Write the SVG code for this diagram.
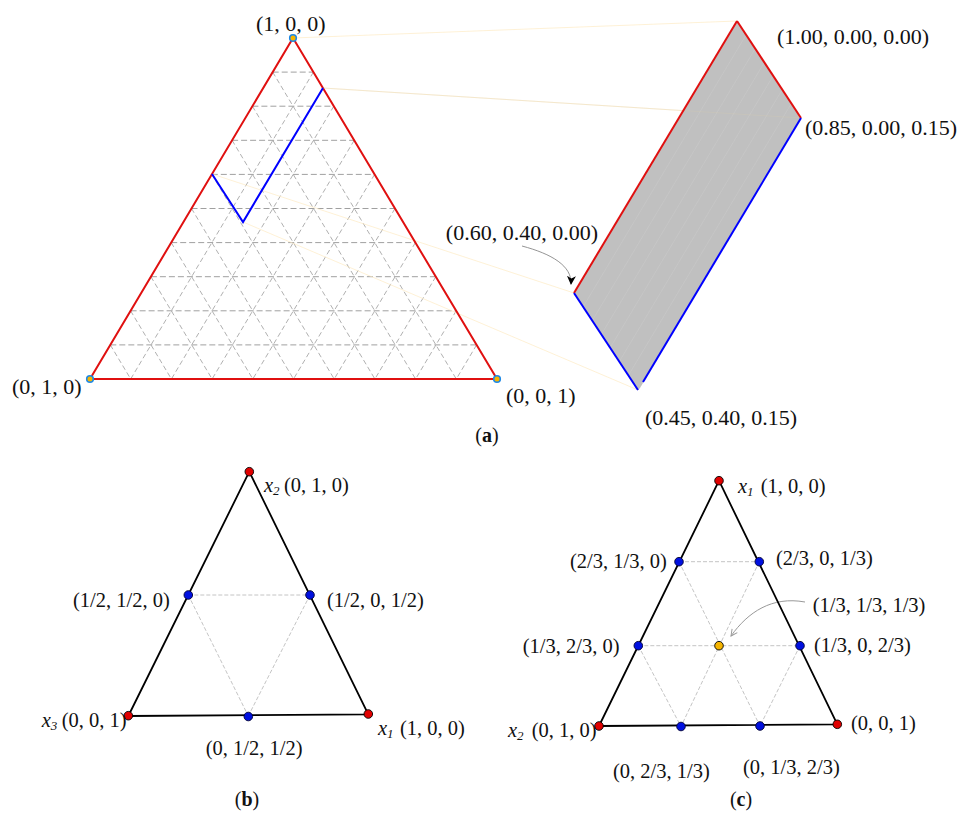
<svg xmlns="http://www.w3.org/2000/svg" width="963" height="814" viewBox="0 0 963 814">
<defs>
<style>
text{font-family:"Liberation Serif","Times New Roman",serif;fill:#111;}
.la{font-size:22px;}
.lb{font-size:20.5px;}
.cap{font-size:20px;}
.sub{font-size:13px;}
.it{font-style:italic;}
.grid{stroke:#9c9c9c;stroke-width:0.8;stroke-dasharray:5 3;fill:none;}
.gridh{stroke:#a0a0a0;stroke-width:1;stroke-dasharray:6 3;fill:none;}
.red{stroke:#e01010;stroke-width:2;fill:none;}
.blue{stroke:#0000ff;stroke-width:2;fill:none;}
.yel{stroke:#fdebc4;stroke-width:0.7;fill:none;}
.blk{stroke:#000;stroke-width:1.8;fill:none;stroke-linejoin:round;}
.dash{stroke:#bdbdbd;stroke-width:0.9;stroke-dasharray:4 2;fill:none;}
.vdot{fill:#f5b400;stroke:#1e88e5;stroke-width:1.6;}
.rdot{fill:#e00000;stroke:#000;stroke-width:0.9;}
.bdot{fill:#0010e0;stroke:#000033;stroke-width:0.9;}
.odot{fill:#f5b400;stroke:#000;stroke-width:0.9;}
.stripe{stroke:#c9c9c9;stroke-width:0.6;}
</style>
<marker id="stealth" viewBox="0 0 10 10" refX="9" refY="5" markerWidth="9" markerHeight="9" orient="auto" markerUnits="userSpaceOnUse">
<path d="M0,0 L10,5 L0,10 L3,5 z" fill="#000"/>
</marker>
<marker id="garrow" viewBox="0 0 10 10" refX="9" refY="5" markerWidth="8" markerHeight="8" orient="auto" markerUnits="userSpaceOnUse">
<path d="M1,1 L9,5 L1,9" fill="none" stroke="#999" stroke-width="1.2"/>
</marker>
</defs>
<rect width="963" height="814" fill="#fff"/>

<!-- Panel (a) -->
<g id="panel-a-grid">
<g class="gridh">
<line x1="110.3" y1="344.9" x2="476.6" y2="344.9"/>
<line x1="130.6" y1="310.8" x2="456.2" y2="310.8"/>
<line x1="150.9" y1="276.7" x2="435.8" y2="276.7"/>
<line x1="171.2" y1="242.6" x2="415.4" y2="242.6"/>
<line x1="191.5" y1="208.5" x2="395" y2="208.5"/>
<line x1="211.8" y1="174.4" x2="374.6" y2="174.4"/>
<line x1="232.1" y1="140.3" x2="354.2" y2="140.3"/>
<line x1="252.4" y1="106.2" x2="333.8" y2="106.2"/>
<line x1="272.7" y1="72.1" x2="313.4" y2="72.1"/>
</g>
<g class="grid">
<line x1="313.4" y1="72.1" x2="130.7" y2="379"/>
<line x1="333.8" y1="106.2" x2="171.4" y2="379"/>
<line x1="354.2" y1="140.3" x2="212.1" y2="379"/>
<line x1="374.6" y1="174.4" x2="252.8" y2="379"/>
<line x1="395" y1="208.5" x2="293.5" y2="379"/>
<line x1="415.4" y1="242.6" x2="334.2" y2="379"/>
<line x1="435.8" y1="276.7" x2="374.9" y2="379"/>
<line x1="456.2" y1="310.8" x2="415.6" y2="379"/>
<line x1="476.6" y1="344.9" x2="456.3" y2="379"/>
<line x1="272.7" y1="72.1" x2="456.3" y2="379"/>
<line x1="252.4" y1="106.2" x2="415.6" y2="379"/>
<line x1="232.1" y1="140.3" x2="374.9" y2="379"/>
<line x1="211.8" y1="174.4" x2="334.2" y2="379"/>
<line x1="191.5" y1="208.5" x2="293.5" y2="379"/>
<line x1="171.2" y1="242.6" x2="252.8" y2="379"/>
<line x1="150.9" y1="276.7" x2="212.1" y2="379"/>
<line x1="130.6" y1="310.8" x2="171.4" y2="379"/>
<line x1="110.3" y1="344.9" x2="130.7" y2="379"/>
</g>
</g>

<g id="connectors">
<g class="yel">
<line x1="293" y1="38" x2="737" y2="21"/>
<line x1="323" y1="88" x2="801" y2="118"/>
<line x1="212" y1="174" x2="574" y2="293"/>
<line x1="243" y1="222" x2="638" y2="390"/>
</g>
<path d="M522,246 C552,254 572,266 571,284" fill="none" stroke="#888" stroke-width="0.9" marker-end="url(#stealth)"/>
<path d="M805,602 C772,596 748,612 731,636" fill="none" stroke="#999" stroke-width="1" marker-end="url(#garrow)"/>
</g>

<g id="triangle-a">
<path class="red" d="M293,38 L497,379 L90,379 Z"/>
<polyline class="blue" points="212,174 243,222 323,88"/>
</g>

<g id="parallelogram">
<path d="M737,21 L801,118 L640,388 L638,390 L574,293 Z" fill="#c0c0c0"/>
<g class="stripe">
<line x1="746" y1="35" x2="583" y2="307"/>
<line x1="755" y1="49" x2="592" y2="321"/>
<line x1="764" y1="63" x2="601" y2="335"/>
<line x1="773" y1="76" x2="610" y2="348"/>
<line x1="782" y1="90" x2="619" y2="362"/>
<line x1="791" y1="104" x2="628" y2="376"/>
</g>
<line x1="323" y1="88" x2="801" y2="118" stroke="#d8cdb0" stroke-width="0.5" opacity="0.5"/>
<line class="red" x1="574" y1="293" x2="737" y2="21"/>
<line class="red" x1="737" y1="21" x2="801" y2="118"/>
<line class="blue" x1="801" y1="118" x2="643" y2="382"/>
<line class="blue" x1="574" y1="293" x2="638" y2="390"/>
</g>

<g id="a-v1"><circle class="vdot" cx="293" cy="38" r="3.3"/><text class="la" x="256" y="31">(1, 0, 0)</text></g>
<g id="a-v2"><circle class="vdot" cx="90" cy="379" r="3.3"/><text class="la" x="12" y="394">(0, 1, 0)</text></g>
<g id="a-v3"><circle class="vdot" cx="497" cy="379" r="3.3"/><text class="la" x="506" y="403">(0, 0, 1)</text></g>
<g id="p-top"><text class="la" x="777" y="43.5">(1.00, 0.00, 0.00)</text></g>
<g id="p-right"><text class="la" x="805" y="135">(0.85, 0.00, 0.15)</text></g>
<g id="p-left"><text class="la" x="598" y="239.5" text-anchor="end">(0.60, 0.40, 0.00)</text></g>
<g id="p-bottom"><text class="la" x="645" y="425">(0.45, 0.40, 0.15)</text></g>
<text class="cap" x="487" y="442" text-anchor="middle">(<tspan font-weight="bold">a</tspan>)</text>

<!-- Panel (b) -->
<g id="b-grid" class="dash">
<line x1="188.3" y1="595" x2="310" y2="595"/>
<line x1="188.3" y1="595" x2="248.3" y2="716"/>
<line x1="310" y1="595" x2="248.3" y2="716"/>
</g>
<g id="triangle-b"><path class="blk" d="M249.3,471.7 L368.3,714.3 L128.3,716 Z"/></g>
<g id="b-x2"><circle class="rdot" cx="249.3" cy="471.7" r="4.3"/><text class="lb it" x="264" y="492">x<tspan class="sub" dy="3">2</tspan></text><text class="lb" x="284" y="492">(0, 1, 0)</text></g>
<g id="b-x3"><circle class="rdot" cx="128.3" cy="715.7" r="4.3"/><text class="lb it" x="41.7" y="727">x<tspan class="sub" dy="3">3</tspan></text><text class="lb" x="61.7" y="727">(0, 0, 1)</text></g>
<g id="b-x1"><circle class="rdot" cx="368.3" cy="714" r="4.3"/><text class="lb it" x="378" y="735">x<tspan class="sub" dy="3">1</tspan></text><text class="lb" x="400" y="735">(1, 0, 0)</text></g>
<g id="b-m12"><circle class="bdot" cx="188.3" cy="595" r="4.3"/><text class="lb" x="73" y="607">(1/2, 1/2, 0)</text></g>
<g id="b-m13"><circle class="bdot" cx="310" cy="595" r="4.3"/><text class="lb" x="327" y="607">(1/2, 0, 1/2)</text></g>
<g id="b-m23"><circle class="bdot" cx="248.3" cy="716.5" r="4.3"/><text class="lb" x="205.7" y="755">(0, 1/2, 1/2)</text></g>
<text class="cap" x="247" y="806" text-anchor="middle">(<tspan font-weight="bold">b</tspan>)</text>

<!-- Panel (c) -->
<g id="c-grid" class="dash">
<line x1="679" y1="561.7" x2="759.3" y2="561.7"/>
<line x1="638.3" y1="645.7" x2="800" y2="645.7"/>
<line x1="679" y1="561.7" x2="760" y2="726"/>
<line x1="759.3" y1="561.7" x2="681" y2="726.5"/>
<line x1="638.3" y1="645.7" x2="681" y2="726.5"/>
<line x1="800" y1="645.7" x2="760" y2="726"/>
</g>
<g id="triangle-c"><path class="blk" d="M719,480.7 L837.3,724.3 L599,726 Z"/></g>
<g id="c-x1"><circle class="rdot" cx="719" cy="480.7" r="4.3"/><text class="lb it" x="738" y="493">x<tspan class="sub" dy="3">1</tspan></text><text class="lb" x="760.7" y="493">(1, 0, 0)</text></g>
<g id="c-x2"><circle class="rdot" cx="599" cy="726" r="4.3"/><text class="lb it" x="508" y="737">x<tspan class="sub" dy="3">2</tspan></text><text class="lb" x="531.7" y="737">(0, 1, 0)</text></g>
<g id="c-x3"><circle class="rdot" cx="837.3" cy="724.3" r="4.3"/><text class="lb" x="851" y="730">(0, 0, 1)</text></g>
<g id="c-p1"><circle class="bdot" cx="679" cy="561.7" r="4.3"/><text class="lb" x="570" y="568">(2/3, 1/3, 0)</text></g>
<g id="c-p2"><circle class="bdot" cx="759.3" cy="561.7" r="4.3"/><text class="lb" x="776" y="565">(2/3, 0, 1/3)</text></g>
<g id="c-p3"><circle class="bdot" cx="638.3" cy="645.7" r="4.3"/><text class="lb" x="522.7" y="653">(1/3, 2/3, 0)</text></g>
<g id="c-center"><circle class="odot" cx="719" cy="645.7" r="4.3"/><text class="lb" x="812.7" y="612">(1/3, 1/3, 1/3)</text></g>
<g id="c-p4"><circle class="bdot" cx="800" cy="645.7" r="4.3"/><text class="lb" x="814" y="652">(1/3, 0, 2/3)</text></g>
<g id="c-p5"><circle class="bdot" cx="681" cy="726.5" r="4.3"/><text class="lb" x="613" y="778">(0, 2/3, 1/3)</text></g>
<g id="c-p6"><circle class="bdot" cx="760" cy="726" r="4.3"/><text class="lb" x="743" y="774">(0, 1/3, 2/3)</text></g>
<text class="cap" x="741" y="806" text-anchor="middle">(<tspan font-weight="bold">c</tspan>)</text>
</svg>
